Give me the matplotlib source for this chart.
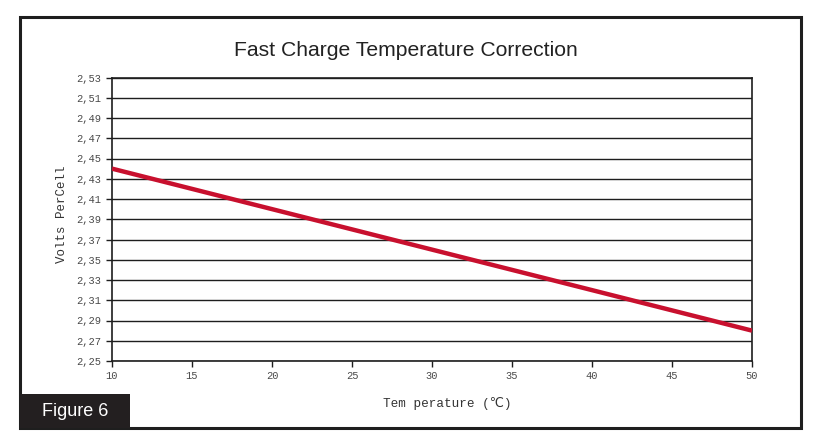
import matplotlib
matplotlib.use("Agg")
import matplotlib.pyplot as plt
from matplotlib.patches import Rectangle

temps = [10, 20, 30, 40, 50]
volts = [2.44, 2.40, 2.36, 2.32, 2.28]
yticks = [2.25, 2.27, 2.29, 2.31, 2.33, 2.35, 2.37, 2.39, 2.41, 2.43, 2.45, 2.47, 2.49, 2.51, 2.53]
xticks = [10, 15, 20, 25, 30, 35, 40, 45, 50]
ytick_labels = [f"{v:.2f}".replace(".", ",") for v in yticks]

W, H = 817, 445
fig = plt.figure(figsize=(W / 100, H / 100), dpi=100)
fig.patch.set_facecolor("white")

# outer frame
fig.add_artist(Rectangle((20 / W, 1 - 428 / H), (801 - 20) / W, (428 - 17) / H,
                         transform=fig.transFigure, fill=False, edgecolor="#1e1e1e", lw=2.2))
# Figure 6 box
fig.add_artist(Rectangle((20 / W, 1 - 428 / H), (130 - 20) / W, (428 - 394) / H,
                         transform=fig.transFigure, facecolor="#231f20", edgecolor="none"))
fig.text(75 / W, 1 - 411 / H, "Figure 6", color="white", fontsize=13,
         family="Liberation Sans", ha="center", va="center")

left, right, top, bottom = 112, 752, 77.5, 361
ax = fig.add_axes([left / W, 1 - bottom / H, (right - left) / W, (bottom - top) / H])
ax.plot(temps, volts, color="#c8102e", lw=3.2, solid_capstyle="butt", zorder=3)
ax.set_xlim(10, 50)
ax.set_ylim(2.25, 2.53)
ax.set_yticks(yticks)
ax.set_yticklabels(ytick_labels)
ax.set_xticks(xticks)
ax.grid(axis="y", color="#1e1e1e", lw=1.0)
for s in ax.spines.values():
    s.set_color("#1e1e1e")
    s.set_linewidth(1.2)
ax.tick_params(axis="both", colors="#1e1e1e", labelcolor="#4a4a4a", labelsize=7.5,
               length=4, width=1.0)
for lab in ax.get_xticklabels() + ax.get_yticklabels():
    lab.set_family("Liberation Mono")

fig.text(406 / W, 1 - 51 / H, "Fast Charge Temperature Correction", fontsize=15.2,
         family="Liberation Sans", color="#222222", ha="center", va="center")
fig.text(447 / W, 1 - 404 / H, "Tem perature (℃)", fontsize=9.1,
         family=["Liberation Mono", "DejaVu Sans"], color="#333333", ha="center", va="center")
fig.text(62 / W, 1 - 214 / H, "Volts PerCell", fontsize=9, rotation=90,
         family="Liberation Mono", color="#333333", ha="center", va="center")

fig.savefig("out.png", dpi=100)
